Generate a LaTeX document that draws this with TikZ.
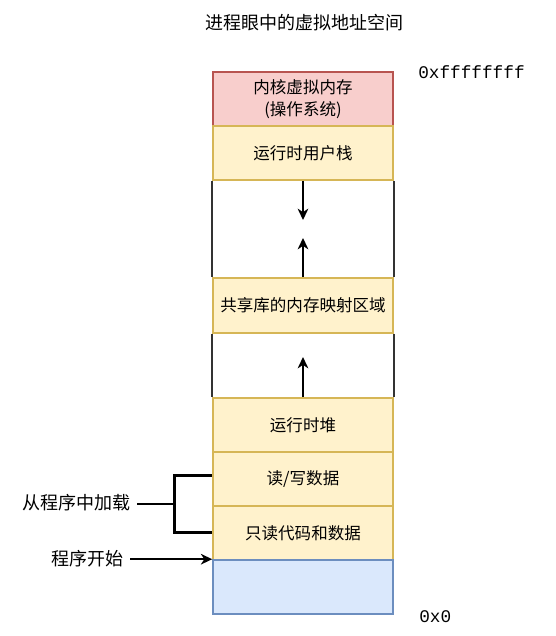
\documentclass[tikz,border=0pt]{standalone}
\usepackage{fontspec}
\newfontfamily\cjk{Noto Sans CJK SC}
\newfontfamily\hexfont{Liberation Mono}
\usetikzlibrary{arrows.meta}
\definecolor{kernfill}{HTML}{F8CECC}
\definecolor{kernline}{HTML}{B85450}
\definecolor{segfill}{HTML}{FFF2CC}
\definecolor{segline}{HTML}{D6B656}
\definecolor{basefill}{HTML}{DAE8FC}
\definecolor{baseline}{HTML}{6C8EBF}
\definecolor{edge}{HTML}{333333}
\tikzset{
  seg/.style={draw=segline, fill=segfill, line width=1.2pt, minimum width=135pt,
    minimum height=40.5pt, inner sep=0pt, align=center, text=black,
    font=\cjk\fontsize{12.4pt}{16.5pt}\selectfont},
  kern/.style={seg, draw=kernline, fill=kernfill},
  base/.style={seg, draw=baseline, fill=basefill},
  side/.style={draw=edge, line width=1.6pt},
  arr/.style={draw=black, line width=1.2pt,
    -{Stealth[length=8.5pt, width=8pt, inset=2.6pt]}},
  bracket/.style={draw=black, line width=2.2pt},
  lbl/.style={inner sep=0pt, font=\cjk\fontsize{13.5pt}{16pt}\selectfont},
  hex/.style={inner sep=0pt, anchor=west, font=\hexfont\fontsize{13.3pt}{16pt}\selectfont}
}
\begin{document}
\begin{tikzpicture}[x=0.75pt, y=-0.75pt]
\useasboundingbox (0,0) rectangle (556,636);

% title
\node[lbl] (title) at (304,23) {进程眼中的虚拟地址空间};

% address space segments, top to bottom
\node[kern] (kernel) at (303,99) {内核虚拟内存\\(操作系统)};
\node[seg] (stack) at (303,153) {运行时用户栈};
\node[seg, minimum height=41.25pt] (shared) at (303,305.5) {共享库的内存映射区域};
\node[seg] (heap) at (303,425) {运行时堆};
\node[seg] (rw) at (303,479) {读/写数据};
\node[seg] (ro) at (303,533) {只读代码和数据};
\node[base] (bottom) at (303,587) {};

% unmapped gaps: only their side walls are drawn
\draw[side] (stack.south west) -- (shared.north west);
\draw[side] (stack.south east) -- (shared.north east);
\draw[side] (shared.south west) -- (heap.north west);
\draw[side] (shared.south east) -- (heap.north east);

% growth directions
\coordinate (stacktip) at (303,220);
\coordinate (sharedtip) at (303,238);
\coordinate (heaptip) at (303,357);
\draw[arr] (stack.south) -- (stacktip);
\draw[arr] (shared.north) -- (sharedtip);
\draw[arr] (heap.north) -- (heaptip);

% address labels
\node[hex] (top) at (418,72) {0xffffffff};
\node[hex] (zero) at (419,617) {0x0};

% loaded from the program file
\node[lbl, anchor=east] (load) at (131,503) {从程序中加载};
\coordinate (bk) at (174.5,504);
\draw[bracket] (rw.west |- 0,475.7) -| (bk) |- (ro.west |- 0,532.5);
\draw[bracket, line width=1.8pt, shorten >=4.5pt] (bk) -- (load.east |- bk);

% program entry
\node[lbl, anchor=east] (start) at (123.5,559) {程序开始};
\draw[arr, shorten <=5pt] (start.east |- bottom.north west) -- (bottom.north west);
\end{tikzpicture}
\end{document}
